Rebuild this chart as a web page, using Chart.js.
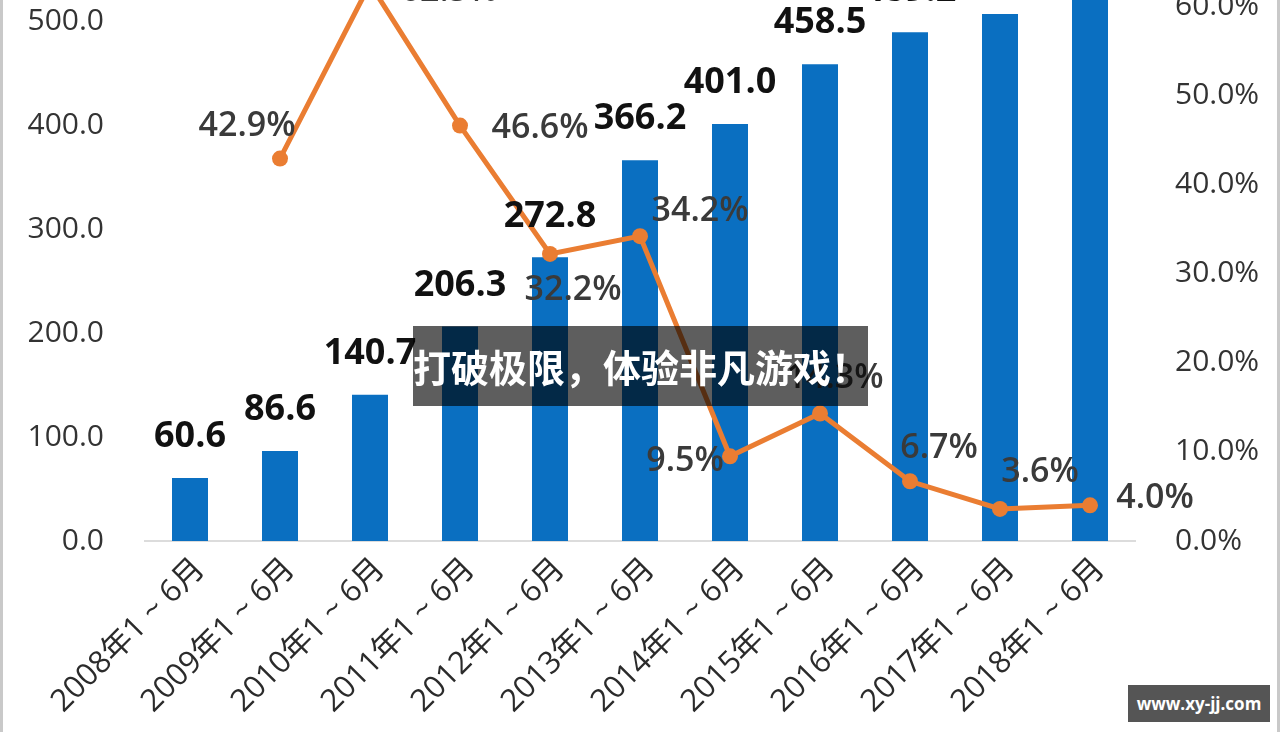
<!DOCTYPE html>
<html>
<head>
<meta charset="utf-8">
<script src="https://cdn.jsdelivr.net/npm/chart.js@4"></script>
<style>
  html, body { margin: 0; padding: 0; background: #fff; overflow: hidden; }
  body { width: 1280px; height: 732px; position: relative; }
  #wrap { position: absolute; left: 0; top: -153px; width: 1280px; height: 885px; }
  .edge { position: absolute; top: 0; width: 3px; height: 732px; background: #c9c9c9; }
  #banner {
    position: absolute; left: 413px; top: 326px; width: 455px; height: 80px;
    background: rgba(0, 0, 0, 0.63); color: #fff;
    font: bold 38px "Noto Sans CJK SC", sans-serif;
    line-height: 80px; white-space: nowrap; text-align: center;
  }
  #mark {
    position: absolute; left: 1128px; top: 685px; width: 142px; height: 37px;
    background: #555; color: #fff; font: bold 17px "Open Sans", sans-serif;
    line-height: 37px; text-align: center;
  }
</style>
</head>
<body>
<div id="wrap"><canvas id="chart"></canvas></div>
<div class="edge" style="left:0"></div>
<div class="edge" style="left:1277px"></div>
<div id="banner">打破极限，体验非凡游戏！</div>
<div id="mark">www.xy-jj.com</div>
<script>
// 数据
const categories = ["2008年1 ~ 6月", "2009年1 ~ 6月", "2010年1 ~ 6月", "2011年1 ~ 6月", "2012年1 ~ 6月",
  "2013年1 ~ 6月", "2014年1 ~ 6月", "2015年1 ~ 6月", "2016年1 ~ 6月", "2017年1 ~ 6月", "2018年1 ~ 6月"];
const sales = [60.6, 86.6, 140.7, 206.3, 272.8, 366.2, 401.0, 458.5, 489.2, 506.8, 527.0];
const growth = [null, 42.9, 62.5, 46.6, 32.2, 34.2, 9.5, 14.3, 6.7, 3.6, 4.0];

// 百分比标签相对数据点的偏移 (px)
const growthLabelOffset = [null, [-33, -32], [79, 7], [80, 3], [23, 36], [60, -25],
  [-45, 5], [15, -35], [29, -33], [40, -37], [65, -7]];

const BLUE = "#0a6fc1";
const ORANGE = "#ea7d32";
const FONT = '"Open Sans", "Noto Sans CJK SC", sans-serif';

const labelPlugin = {
  id: "valueLabels",
  afterDatasetsDraw(chart) {
    const ctx = chart.ctx;
    ctx.save();
    ctx.textAlign = "center";
    ctx.textBaseline = "middle";

    const lineMeta = chart.getDatasetMeta(1);
    ctx.font = "600 34px " + FONT;
    ctx.fillStyle = "#3a3a3a";
    lineMeta.data.forEach((pt, i) => {
      if (growth[i] == null) return;
      const off = growthLabelOffset[i];
      ctx.fillText(growth[i].toFixed(1) + "%", pt.x + off[0], pt.y + off[1]);
    });

    const barMeta = chart.getDatasetMeta(0);
    ctx.font = "bold 36px " + FONT;
    ctx.fillStyle = "#111";
    barMeta.data.forEach((bar, i) => {
      ctx.fillText(sales[i].toFixed(1), bar.x, bar.y - 41);
    });
    ctx.restore();
  },
};

document.addEventListener("DOMContentLoaded", function () {
  if (typeof Chart === "undefined") {
    console.error("Chart.js not loaded");
    return;
  }

  new Chart(document.getElementById("chart"), {
    type: "bar",
    data: {
      labels: categories,
      datasets: [
        {
          type: "bar",
          label: "销售收入",
          data: sales,
          backgroundColor: BLUE,
          categoryPercentage: 1,
          barPercentage: 0.4,
          yAxisID: "y",
          order: 1,
        },
        {
          type: "line",
          label: "增长率",
          data: growth,
          borderColor: ORANGE,
          backgroundColor: ORANGE,
          borderWidth: 5,
          pointRadius: 8,
          pointBackgroundColor: ORANGE,
          pointBorderWidth: 0,
          tension: 0,
          yAxisID: "y1",
          order: 0,
        },
      ],
    },
    options: {
      responsive: true,
      maintainAspectRatio: false,
      animation: false,
      layout: { padding: { top: 70, left: 0, right: 0, bottom: 0 } },
      plugins: {
        legend: { display: false },
        tooltip: { enabled: false },
      },
      scales: {
        x: {
          grid: { display: false },
          border: { display: true, color: "#dcdcdc", width: 2 },
          ticks: {
            minRotation: 45,
            maxRotation: 45,
            color: "#2b2b2b",
            font: { size: 31, family: FONT },
            padding: 2,
            labelOffset: 10,
          },
          afterFit: (scale) => { scale.height = 191; },
        },
        y: {
          position: "left",
          min: 0,
          max: 600,
          grid: { display: false },
          border: { display: false },
          ticks: {
            stepSize: 100,
            padding: 33,
            color: "#333",
            font: { size: 30, family: FONT },
            callback: (v) => v.toFixed(1),
          },
          afterFit: (scale) => { scale.width = 145; },
        },
        y1: {
          position: "right",
          min: 0,
          max: 70,
          grid: { display: false },
          border: { display: false },
          ticks: {
            stepSize: 10,
            padding: 32,
            color: "#333",
            font: { size: 30, family: FONT },
            callback: (v) => v.toFixed(1) + "%",
          },
          afterFit: (scale) => { scale.width = 145; },
        },
      },
    },
    plugins: [labelPlugin],
  });
});
</script>
</body>
</html>
